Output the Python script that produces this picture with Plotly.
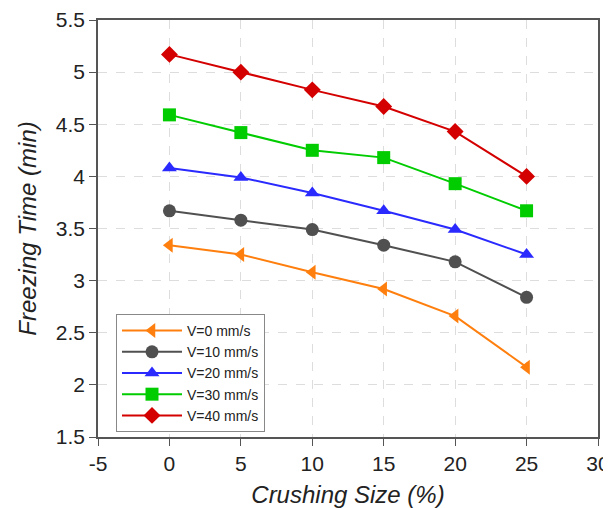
import plotly.graph_objects as go

crushing_size = [0, 5, 10, 15, 20, 25]
v0 = [3.34, 3.25, 3.08, 2.92, 2.66, 2.17]
v10 = [3.67, 3.58, 3.49, 3.34, 3.18, 2.84]
v20 = [4.08, 3.99, 3.84, 3.67, 3.49, 3.25]
v30 = [4.59, 4.42, 4.25, 4.18, 3.93, 3.67]
v40 = [5.17, 5.00, 4.83, 4.67, 4.43, 4.00]

x_tick_vals = [-5, 0, 5, 10, 15, 20, 25, 30]
x_tick_text = ["-5", "0", "5", "10", "15", "20", "25", "30"]
y_tick_vals = [1.5, 2, 2.5, 3, 3.5, 4, 4.5, 5, 5.5]
y_tick_text = ["1.5", "2", "2.5", "3", "3.5", "4", "4.5", "5", "5.5"]

series = [
    ("V=0 mm/s", v0, "#FF7F0E", "triangle-left"),
    ("V=10 mm/s", v10, "#505050", "circle"),
    ("V=20 mm/s", v20, "#2A2AFF", "triangle-up"),
    ("V=30 mm/s", v30, "#00CC00", "square"),
    ("V=40 mm/s", v40, "#D40000", "diamond"),
]

fig = go.Figure()
for name, vals, color, sym in series:
    fig.add_trace(go.Scatter(
        x=crushing_size, y=vals, name=name, mode="lines+markers",
        line=dict(color=color, width=2),
        marker=dict(symbol=sym, size=13, color=color),
    ))

axis_common = dict(
    showline=True, linecolor="#555555", linewidth=1.5, mirror=True,
    ticks="outside", ticklen=7, tickcolor="#555555",
    showgrid=True, gridcolor="#DDDDDD", griddash="dash", gridwidth=1,
    zeroline=False, tickfont=dict(size=21, color="#222222"),
    automargin=False,
)

fig.update_layout(
    width=611, height=508,
    margin=dict(l=90, r=21, t=12, b=79),
    paper_bgcolor="white", plot_bgcolor="white",
    font=dict(family="Liberation Sans, Arial, sans-serif", color="#222222"),
    xaxis=dict(range=[-5, 30], tickvals=x_tick_vals, ticktext=x_tick_text,
               title=dict(text="<i>Crushing Size (%)</i>", font=dict(size=24), standoff=12),
               **axis_common),
    yaxis=dict(range=[1.5, 5.5], tickvals=y_tick_vals, ticktext=y_tick_text,
               title=dict(text="<i>Freezing Time (min)</i>", font=dict(size=24), standoff=12),
               **axis_common),
    legend=dict(x=0.036, y=0.295, xanchor="left", yanchor="top",
                bgcolor="white", bordercolor="#888888", borderwidth=1,
                font=dict(size=14), tracegroupgap=0, itemwidth=60),
    showlegend=True,
)

fig.write_html("out.html")
